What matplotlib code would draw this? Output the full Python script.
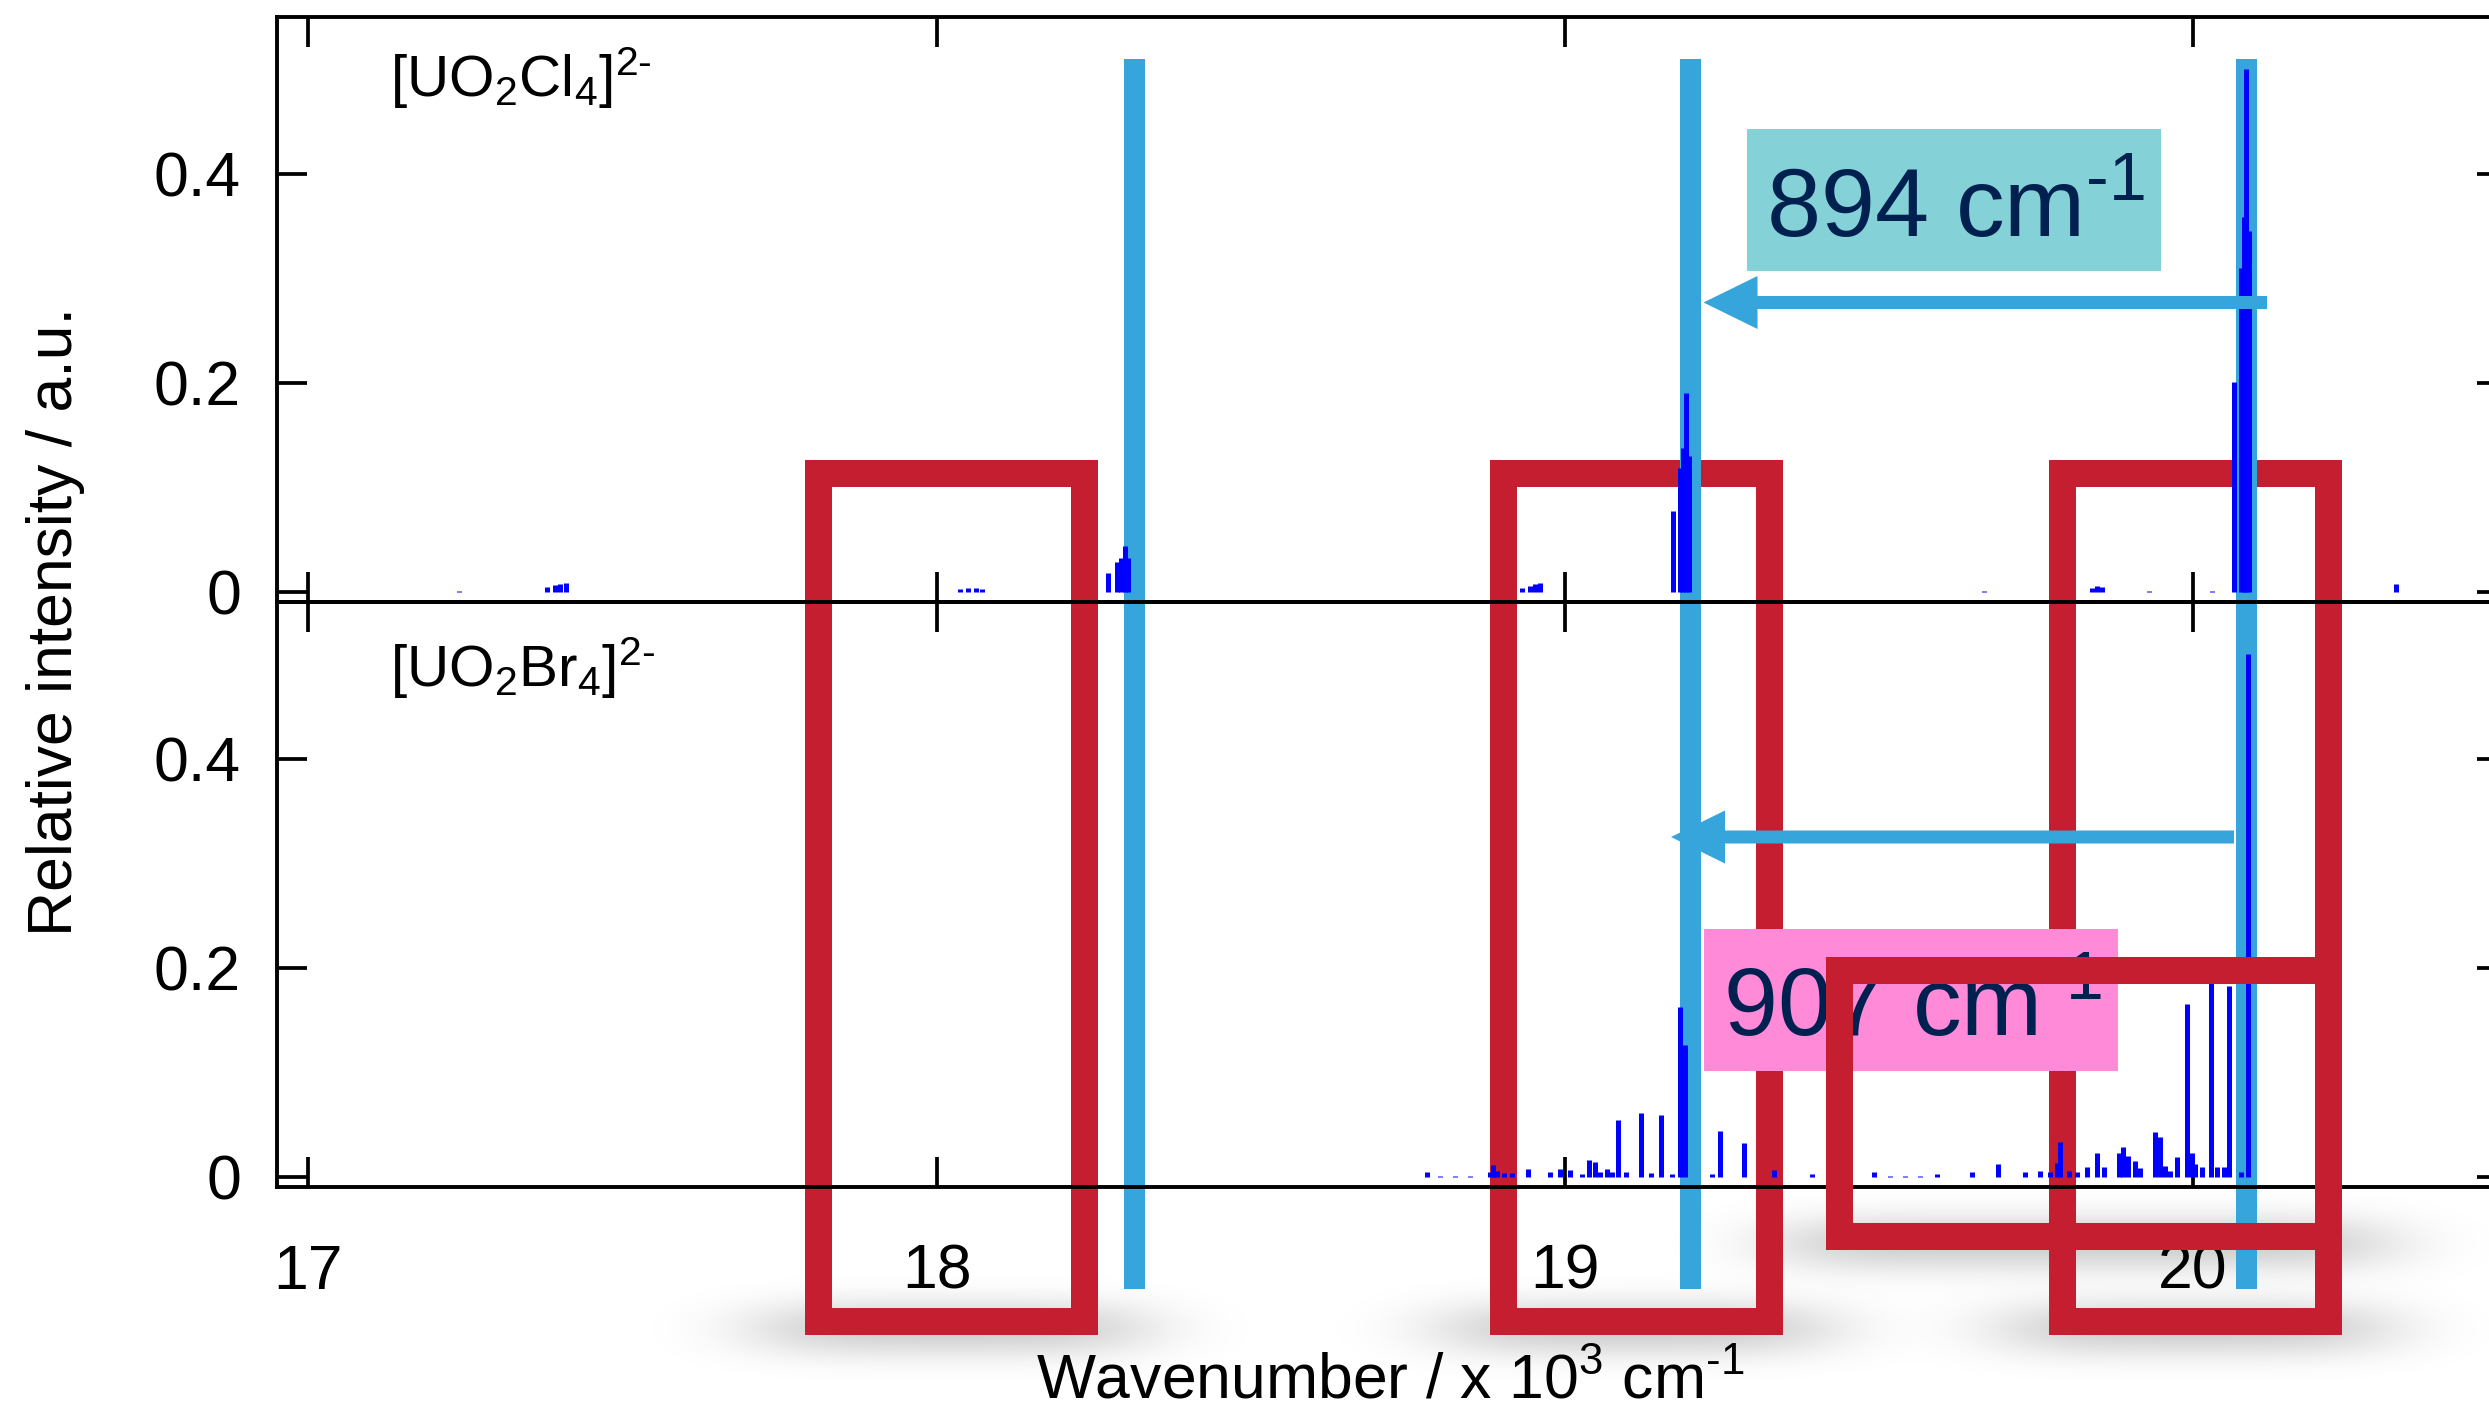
import math
import numpy as np
import matplotlib
matplotlib.use("Agg")
import matplotlib.pyplot as plt
from matplotlib.patches import Rectangle, FancyArrow
from matplotlib.transforms import IdentityTransform

plt.rcParams["font.family"] = ["Liberation Sans", "DejaVu Sans"]
plt.rcParams["mathtext.fontset"] = "custom"
plt.rcParams["mathtext.rm"] = "Liberation Sans"
plt.rcParams["mathtext.it"] = "Liberation Sans:italic"
plt.rcParams["mathtext.bf"] = "Liberation Sans:bold"

# ---- spectra (wavenumber in 10^3 cm-1, relative intensity) ----
cl_wn = [17.240, 17.380, 17.392, 17.400, 17.410,
         18.037, 18.050, 18.062, 18.072,
         18.273, 18.288, 18.294, 18.300, 18.305,
         18.932, 18.944, 18.952, 18.960,
         19.172, 19.183, 19.189, 19.193, 19.198,
         19.667, 19.840, 19.848, 19.855, 19.930, 20.030,
         20.066, 20.077, 20.081, 20.085, 20.090, 20.324]
cl_int = [0.001, 0.004, 0.006, 0.007, 0.008,
          0.002, 0.003, 0.003, 0.002,
          0.018, 0.028, 0.032, 0.044, 0.032,
          0.003, 0.005, 0.007, 0.008,
          0.077, 0.118, 0.137, 0.190, 0.130,
          0.001, 0.003, 0.005, 0.004, 0.001, 0.001,
          0.201, 0.310, 0.359, 0.500, 0.345, 0.007]

br_wn = [18.780, 18.801, 18.825, 18.849, 18.881, 18.885, 18.892, 18.904, 18.916,
         18.941, 18.976, 18.992, 19.008, 19.027, 19.038, 19.048, 19.056, 19.068,
         19.075, 19.084, 19.097, 19.122, 19.138, 19.153, 19.170, 19.183, 19.191,
         19.235, 19.247, 19.286, 19.333, 19.393, 19.493, 19.517, 19.541, 19.565,
         19.593, 19.648, 19.690, 19.732, 19.756, 19.772, 19.784, 19.789, 19.803,
         19.816, 19.831, 19.848, 19.859, 19.883, 19.889, 19.896, 19.908, 19.915,
         19.939, 19.948, 19.956, 19.963, 19.975, 19.990, 19.998, 20.004, 20.015,
         20.028, 20.039, 20.049, 20.057, 20.076, 20.088]
br_int = [0.004, 0.001, 0.001, 0.001, 0.004, 0.011, 0.005, 0.003, 0.003,
          0.007, 0.004, 0.007, 0.006, 0.002, 0.016, 0.014, 0.004, 0.007,
          0.004, 0.054, 0.004, 0.061, 0.003, 0.059, 0.002, 0.162, 0.126,
          0.002, 0.044, 0.032, 0.006, 0.002, 0.004, 0.001, 0.001, 0.001,
          0.002, 0.004, 0.012, 0.004, 0.005, 0.004, 0.013, 0.033, 0.005,
          0.004, 0.009, 0.023, 0.009, 0.023, 0.028, 0.020, 0.015, 0.008,
          0.043, 0.038, 0.010, 0.005, 0.019, 0.165, 0.023, 0.012, 0.009,
          0.185, 0.009, 0.009, 0.182, 0.004, 0.500]

x_ticks = [17, 18, 19, 20]
y_ticks = [0, 0.2, 0.4]
y_ticklabels = ["0", "0.2", "0.4"]
highlight_wn = [18.315, 19.200, 20.086]

BAR_BLUE = "#0000ff"
LINE_BLUE = "#35a5db"
RED = "#c41e30"
TEAL = "#84d1d7"
PINK = "#ff8ad8"
NAVY = "#002150"

W, H, DPI = 2489, 1410, 100
ID = IdentityTransform()

fig = plt.figure(figsize=(W / DPI, H / DPI), dpi=DPI)


def add_panel(top_px, bottom_px, wn, inten, show_xlabels):
    ax = fig.add_axes([277 / W, (H - bottom_px) / H, (2507 - 277) / W, (bottom_px - top_px) / H])
    ax.set_facecolor("none")
    ax.vlines(wn, 0, inten, colors=BAR_BLUE, lw=3.6)
    ax.set_xlim(16.95, 20.5)
    ax.set_ylim(-0.01, 0.55)
    ax.set_xticks(x_ticks)
    ax.set_yticks(y_ticks)
    ax.set_yticklabels(y_ticklabels)
    ax.tick_params(direction="in", length=21.6, width=2.7, top=True, right=True,
                   labelsize=45)
    ax.tick_params(axis="x", pad=40, labelbottom=show_xlabels)
    ax.tick_params(axis="y", pad=26)
    for sp in ax.spines.values():
        sp.set_linewidth(2.8)
    return ax


ax_cl = add_panel(17, 602, cl_wn, cl_int, False)
ax_br = add_panel(602, 1187, br_wn, br_int, True)

# ---- soft drop shadows under the highlight frames ----
frames = [(804, 459, 1097, 1334), (1489, 459, 1782, 1334), (2048, 459, 2341, 1334)]
frame_front = (1825, 956, 2341, 1249)
erf = np.vectorize(math.erf)
xs = np.arange(W) + 0.5
ys = np.arange(H) + 0.5


def band(v, lo, hi, s):
    return 0.5 * (erf((v - lo) / (s * math.sqrt(2))) - erf((v - hi) / (s * math.sqrt(2))))


shadow = np.zeros((H, W))
for (l, t, r, b) in frames + [frame_front]:
    shadow += np.outer(band(ys, b - 25, b + 14, 16), band(xs, l - 40, r + 40, 55))
img = np.zeros((H, W, 4))
img[..., 3] = np.clip(shadow * 0.24, 0, 1)
fig.figimage(img, 0, 0, origin="upper", zorder=-6)


def draw_frame(l, t, r, b, z, th=27):
    fig.add_artist(Rectangle((l + th / 2, H - b + th / 2), r - l - th, b - t - th,
                             fill=False, edgecolor=RED, lw=th * 72 / DPI,
                             joinstyle="miter", transform=ID, zorder=z))


for fr in frames:
    draw_frame(*fr, z=-5)

# ---- highlight lines at the main peaks ----
for wn in highlight_wn:
    xc = ax_br.transData.transform((wn, 0))[0]
    fig.add_artist(Rectangle((xc - 10.5, H - 1289), 21, 1289 - 59, facecolor=LINE_BLUE,
                             lw=0, transform=ID, zorder=-4))

# ---- arrows ----
for x0, x1, y in [(2267, 1703.5, 302.5), (2234, 1671, 837)]:
    fig.add_artist(FancyArrow(x0, H - y, x1 - x0, 0, width=13, head_width=53,
                              head_length=54, length_includes_head=True,
                              color=LINE_BLUE, lw=0, transform=ID, zorder=2))

# ---- shift labels ----
fig.add_artist(Rectangle((1747, H - 271), 413.5, 142, facecolor=TEAL, lw=0,
                         transform=ID, zorder=3))
fig.text(1766, H - 237, r"894 cm$^{\text{-}1}$", fontsize=70, color=NAVY,
         ha="left", va="baseline", transform=ID, zorder=3.5)
fig.add_artist(Rectangle((1704, H - 1071), 414, 142, facecolor=PINK, lw=0,
                         transform=ID, zorder=3))
fig.text(1723, H - 1036, r"907 cm$^{\text{-}1}$", fontsize=70, color=NAVY,
         ha="left", va="baseline", transform=ID, zorder=3.5)

draw_frame(*frame_front, z=5)

# ---- labels ----
fig.text(390, H - 97, r"[UO$_2$Cl$_4$]$^{2\text{-}}$", fontsize=42,
         ha="left", va="baseline", transform=ID)
fig.text(390, H - 687, r"[UO$_2$Br$_4$]$^{2\text{-}}$", fontsize=42,
         ha="left", va="baseline", transform=ID)
fig.text(1390, H - 1398, r"Wavenumber / x 10$^3$ cm$^{\text{-}1}$", fontsize=45,
         ha="center", va="baseline", transform=ID)
fig.text(56, H - 621, "Relative intensity / a.u.", fontsize=45, rotation=90,
         ha="center", va="center", transform=ID)

fig.savefig("out.png", dpi=DPI)
